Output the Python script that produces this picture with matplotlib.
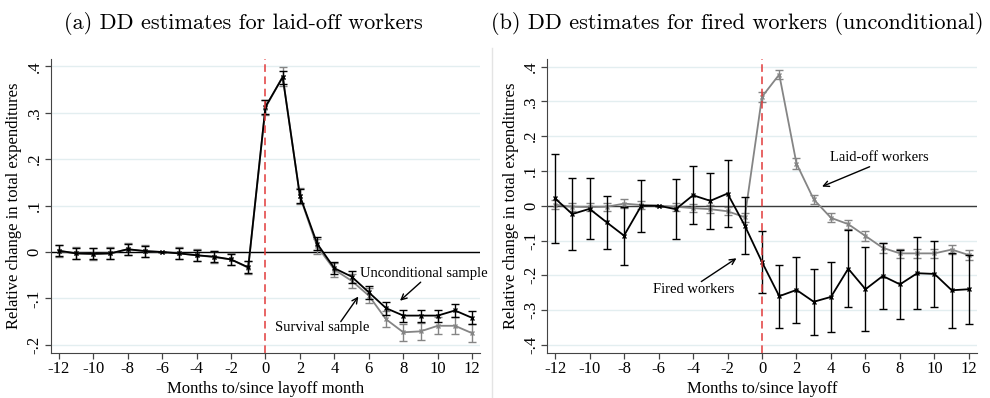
import numpy as np
import matplotlib.pyplot as plt

months = [-12, -11, -10, -9, -8, -7, -6, -5, -4, -3, -2, -1,
          0, 1, 2, 3, 4, 5, 6, 7, 8, 9, 10, 11, 12]

# panel (a): unconditional sample (black) and survival sample (gray)
uncond = [0.003, -0.003, -0.004, -0.003, 0.006, 0.002, 0.0, -0.003, -0.007,
          -0.010, -0.016, -0.033, 0.313, 0.377, 0.121, 0.018, -0.035,
          -0.053, -0.087, -0.121, -0.137, -0.137, -0.137, -0.126, -0.142]
uncond_ci = [0.012, 0.012, 0.012, 0.012, 0.012, 0.012, 0.0, 0.012, 0.012,
             0.012, 0.012, 0.013, 0.015, 0.014, 0.015, 0.014, 0.013,
             0.013, 0.014, 0.014, 0.013, 0.013, 0.013, 0.014, 0.014]
surv = [0.002, -0.003, -0.004, -0.003, 0.006, 0.002, 0.0, -0.003, -0.007,
        -0.011, -0.016, -0.034, 0.311, 0.378, 0.120, 0.012, -0.038,
        -0.062, -0.094, -0.145, -0.173, -0.171, -0.159, -0.159, -0.175]
surv_ci = [0.013, 0.013, 0.013, 0.013, 0.013, 0.013, 0.0, 0.013, 0.013,
           0.013, 0.013, 0.014, 0.016, 0.020, 0.017, 0.016, 0.015,
           0.015, 0.016, 0.017, 0.018, 0.018, 0.018, 0.018, 0.019]

# panel (b): fired workers (black), laid-off workers = unconditional (gray)
fired = [0.021, -0.024, -0.009, -0.048, -0.086, 0.0, 0.0, -0.010, 0.030,
         0.014, 0.035, -0.057, -0.162, -0.260, -0.242, -0.276, -0.262,
         -0.181, -0.240, -0.202, -0.226, -0.194, -0.196, -0.243, -0.240]
fired_ci = [0.128, 0.104, 0.088, 0.076, 0.083, 0.075, 0.0, 0.086, 0.084,
            0.080, 0.095, 0.083, 0.088, 0.090, 0.096, 0.095, 0.100,
            0.110, 0.120, 0.095, 0.100, 0.103, 0.096, 0.107, 0.099]

xticks = [-12, -10, -8, -6, -4, -2, 0, 2, 4, 6, 8, 10, 12]
yticks_a = [-0.2, -0.1, 0, 0.1, 0.2, 0.3, 0.4]
ylabels_a = ['-.2', '-.1', '0', '.1', '.2', '.3', '.4']
yticks_b = [-0.4, -0.3, -0.2, -0.1, 0, 0.1, 0.2, 0.3, 0.4]
ylabels_b = ['-.4', '-.3', '-.2', '-.1', '0', '.1', '.2', '.3', '.4']

SERIF = 'Liberation Serif'
GRAY = '#858585'
GRID = '#e3eef0'


def draw_series(ax, y, ci, color, z):
    ax.errorbar(months, y, yerr=ci, color=color, lw=1.3, elinewidth=1.0,
                capsize=3, capthick=1.0, marker='x', ms=3, mew=1.0, zorder=z)


def style_axis(ax, yticks, ylabels, ylim, xlabel):
    ax.set_xlim(-12.45, 12.45)
    ax.set_ylim(*ylim)
    ax.set_xticks(xticks)
    ax.set_xticklabels([str(t) for t in xticks], fontname=SERIF, fontsize=12)
    ax.set_yticks(yticks)
    ax.set_yticklabels(ylabels, fontname=SERIF, fontsize=12, rotation=90,
                       va='center')
    for t in yticks:
        ax.axhline(t, color=GRID, lw=1.0, zorder=0)
    ax.spines['top'].set_visible(False)
    ax.spines['right'].set_visible(False)
    ax.spines['left'].set_color('#444444')
    ax.spines['bottom'].set_color('#444444')
    ax.tick_params(direction='out', length=4, width=0.9, color='#444444',
                   pad=2)
    ax.set_xlabel(xlabel, fontname=SERIF, fontsize=12, labelpad=3)
    ax.set_ylabel('Relative change in total expenditures', fontname=SERIF,
                  fontsize=12, labelpad=3)
    ax.axvline(0, color='#e23b3b', lw=1.1, ls=(0, (5, 3)), zorder=6)


fig = plt.figure(figsize=(9.9, 3.98), dpi=100)
ax1 = fig.add_axes([0.0515, 0.1138, 0.4333, 0.738])
ax2 = fig.add_axes([0.5528, 0.1138, 0.4338, 0.738])

# (a)
ax1.axhline(0, color='black', lw=1.0, zorder=1)
draw_series(ax1, surv, surv_ci, GRAY, 3)
draw_series(ax1, uncond, uncond_ci, 'black', 4)
style_axis(ax1, yticks_a, ylabels_a, (-0.217, 0.416),
           'Months to/since layoff month')
ax1.text(5.49, -0.047, 'Unconditional sample', fontname=SERIF,
         fontsize=10.5, va='center', ha='left')
ax1.annotate('', xy=(7.81, -0.105), xytext=(9.01, -0.065),
             arrowprops=dict(arrowstyle='->', color='black', lw=1.0,
                             shrinkA=0, shrinkB=0))
ax1.annotate('', xy=(5.39, -0.096), xytext=(4.37, -0.150),
             arrowprops=dict(arrowstyle='->', color='black', lw=1.0,
                             shrinkA=0, shrinkB=0))
ax1.text(0.56, -0.163, 'Survival sample', fontname=SERIF, fontsize=10.5,
         va='center', ha='left')

# (b)
ax2.axhline(0, color='#3a3a3a', lw=1.0, zorder=1)
draw_series(ax2, uncond, uncond_ci, GRAY, 3)
draw_series(ax2, fired, fired_ci, 'black', 4)
style_axis(ax2, yticks_b, ylabels_b, (-0.4224, 0.4216),
           'Months to/since layoff')
ax2.text(3.96, 0.138, 'Laid-off workers', fontname=SERIF, fontsize=10.5,
         va='center', ha='left')
ax2.annotate('', xy=(3.48, 0.055), xytext=(6.24, 0.112),
             arrowprops=dict(arrowstyle='->', color='black', lw=1.0,
                             shrinkA=0, shrinkB=0))
ax2.text(-6.33, -0.242, 'Fired workers', fontname=SERIF, fontsize=10.5,
         va='center', ha='left')
ax2.annotate('', xy=(-1.48, -0.151), xytext=(-3.52, -0.218),
             arrowprops=dict(arrowstyle='->', color='black', lw=1.0,
                             shrinkA=0, shrinkB=0))

# panel titles
fig.text(0.246, 0.94, '(a) DD estimates for laid-off workers',
         family='cmr10', fontsize=16, ha='center', va='center')
fig.text(0.745, 0.94, '(b) DD estimates for fired workers (unconditional)',
         family='cmr10', fontsize=16, ha='center', va='center')

# thin frame edge of left graph
fig.add_artist(plt.Line2D([0.4965, 0.4965], [0.0, 0.88], color='#e4e4e4',
                          lw=1.0, transform=fig.transFigure))

fig.savefig('out.png', dpi=100)
